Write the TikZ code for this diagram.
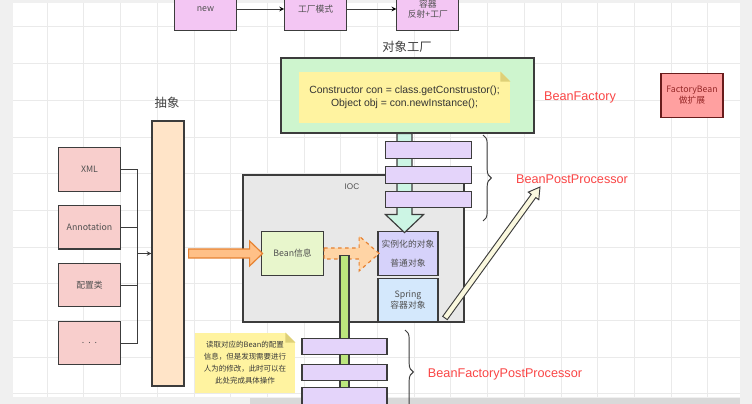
\documentclass[tikz,border=0pt]{standalone}
\usepackage{fontspec}
\setmainfont{Liberation Sans}
\newfontfamily\cjk{Noto Sans CJK SC}
\usetikzlibrary{positioning,calc,decorations.pathreplacing}

\definecolor{topcol}{RGB}{243,198,243}
\definecolor{redbox}{RGB}{248,206,204}
\definecolor{peach}{RGB}{255,228,200}
\definecolor{greenbox}{RGB}{206,245,206}
\definecolor{notecol}{RGB}{255,243,160}
\definecolor{foldcol}{RGB}{222,208,120}
\definecolor{factorycol}{RGB}{255,160,160}
\definecolor{factorytext}{RGB}{150,40,40}
\definecolor{iocfill}{RGB}{232,232,232}
\definecolor{beaninfo}{RGB}{232,246,204}
\definecolor{instcol}{RGB}{214,210,250}
\definecolor{springcol}{RGB}{212,232,252}
\definecolor{barcol}{RGB}{228,212,250}
\definecolor{tealcol}{RGB}{204,245,228}
\definecolor{greenbar}{RGB}{188,230,125}
\definecolor{orangecol}{RGB}{255,192,135}
\definecolor{orangeline}{RGB}{230,130,50}
\definecolor{dashfill}{RGB}{255,212,165}
\definecolor{creamcol}{RGB}{250,248,222}
\definecolor{linecol}{RGB}{60,60,60}
\definecolor{textcol}{RGB}{80,80,80}
\definecolor{redcol}{RGB}{250,70,70}
\definecolor{gridcol}{RGB}{234,234,234}

% [style]{start}{angle}{length}{half shaft}{half head}{head length}
\newcommand{\blockarrow}[7][]{%
  \draw[#1, shift={(#2)}, rotate=#3] (0,-#5) -- (#4-#7,-#5) -- (#4-#7,-#6) -- (#4,0)
    -- (#4-#7,#6) -- (#4-#7,#5) -- (0,#5) -- cycle;}

\begin{document}
\begin{tikzpicture}[x=0.03cm, y=-0.03cm, >=stealth, line width=0.8pt,
    box/.style={draw=linecol, line width=1pt, minimum width=1.86cm, minimum height=1.3cm,
      inner sep=0pt, align=center, text=textcol, font=\cjk\fontsize{7.5}{9.5}\selectfont},
    bar/.style={draw=linecol, line width=1pt, fill=barcol, minimum width=2.58cm,
      minimum height=0.5cm, inner sep=0pt},
    note/.style={fill=notecol, inner sep=0pt, align=center},
    redlabel/.style={text=redcol, font=\fontsize{10.8}{13}\selectfont},
    title/.style={text=textcol!80!black, font=\cjk\fontsize{10.5}{12}\selectfont}]
  \useasboundingbox (0,0) rectangle (752,404);
  \clip (0,0) rectangle (752,404);

  % canvas
  \fill[gray!12] (0,0) rectangle (752,404);
  \fill[white] (13,3) rectangle (740,397);
  \foreach \gx in {47,83.7,...,740} \draw[gridcol, line width=0.5pt] (\gx,3) -- (\gx,397);
  \foreach \gy in {26.7,63.4,...,397} \draw[gridcol, line width=0.5pt] (13,\gy) -- (740,\gy);
  \fill[gray!30] (250,398) rectangle (740,404);

  % top row
  \node [box, fill=topcol](1) at (205.5,9) {new};
  \node [box, fill=topcol](2) [right=1.41cm of 1] {工厂模式};
  \node [box, fill=topcol, font=\cjk\fontsize{7.5}{8.6}\selectfont](3) [right=1.47cm of 2] {容器\\反射+工厂};
  \path[->, draw=linecol]
    (1) edge (2)
    (2) edge (3);

  % object factory
  \node [title](4) at (407,47) {对象工厂};
  \node [draw=linecol, line width=1pt, fill=greenbox, minimum width=7.59cm, minimum height=2.25cm](5) at (407.5,95.5) {};
  \node [note, minimum width=6.33cm, minimum height=1.53cm, text=black!80, font=\fontsize{8.9}{11.5}\selectfont](6) at (404.5,97.5)
    {Constructor con = class.getConstrustor();\\Object obj = con.newInstance();};
  \fill[greenbox] ($(6.north east)+(-10,0)$) -- (6.north east) -- ($(6.north east)+(0,10)$) -- cycle;
  \fill[foldcol] ($(6.north east)+(-10,0)$) -- ($(6.north east)+(-10,10)$) -- ($(6.north east)+(0,10)$) -- cycle;
  \node [redlabel](7) at (580,97) {BeanFactory};
  \node [box, fill=factorycol, draw=factorytext!70!black, text=factorytext](8) at (692,95.5) {FactoryBean\\做扩展};

  % sources
  \node [title](9) at (167,103) {抽象};
  \node [draw=linecol, line width=1pt, fill=peach, minimum width=0.96cm, minimum height=7.95cm](10) at (168,253.5) {};
  \node [box, fill=redbox](11) at (89.5,169.5) {XML};
  \node [box, fill=redbox](12) [below=0.4cm of 11] {Annotation};
  \node [box, fill=redbox](13) [below=0.4cm of 12] {配置类};
  \node [box, fill=redbox](14) [below=0.4cm of 13] {.\ \ .\ \ .};
  \coordinate (bus) at (137,253.5);
  \draw[linecol] (11) -| (bus);
  \draw[linecol] (12) -| (bus);
  \draw[linecol] (13) -| (bus);
  \draw[linecol] (14) -| (bus);
  \draw[->, linecol] (bus) -- (10);

  % IOC
  \node [draw=linecol, line width=1pt, fill=iocfill, minimum width=6.63cm, minimum height=4.41cm](15) at (353.5,248.5) {};
  \node [text=textcol, font=\fontsize{7}{8}\selectfont](30) at (352,187) {IOC};
  \node [box, fill=beaninfo](16) at (292.5,253.5) {Bean信息};
  \node [box, fill=instcol, minimum width=1.8cm](17) at (408,253.5) {实例化的对象\\[7pt]普通对象};
  \node [box, fill=springcol, minimum width=1.8cm](18) at (408,300) {Spring\\容器对象};

  \blockarrow[draw=orangeline, fill=orangecol, line width=1pt]{$(10.east)+(4,0)$}{0}{74}{4.5}{12.5}{13}
  \blockarrow[draw=orangeline, fill=dashfill, dashed, line width=1pt]{16.east}{0}{55}{5.5}{17.5}{20}

  % post processors
  \blockarrow[draw=linecol, fill=tealcol, line width=1pt]{$(5.south)+(-3,0)$}{-90}{99}{7.5}{19}{18}
  \node [bar](19) at (428.5,150) {};
  \node [bar](20) at (428.5,175) {};
  \node [bar](21) at (428.5,199.5) {};
  \draw[linecol, decorate, decoration={brace, amplitude=0.25cm}] (483,135) -- (483,221);
  \node [redlabel](22) at (572,179) {BeanPostProcessor};
  \coordinate (31) at (445,318);
  \blockarrow[draw=linecol, fill=creamcol, line width=0.8pt]{31}{54.05}{161.8}{2.8}{6.5}{11}

  \node [draw=linecol, line width=1pt, fill=greenbar, minimum width=0.27cm, minimum height=4.5cm](29) at (344.5,330.5) {};
  \node [bar, minimum width=2.55cm](23) at (344.5,346.5) {};
  \node [bar, minimum width=2.55cm](24) at (344.5,372.5) {};
  \node [bar, minimum width=2.55cm](25) at (344.5,396) {};
  \node [note, minimum width=3cm, minimum height=1.8cm, text=textcol!70!black, font=\cjk\fontsize{6.4}{10.2}\selectfont](26) at (245,363)
    {读取对应的Bean的配置\\信息，但是发现需要进行\\人为的修改，此时可以在\\此处完成具体操作};
  \fill[white] ($(26.north east)+(-10,0)$) -- (26.north east) -- ($(26.north east)+(0,10)$) -- cycle;
  \fill[foldcol] ($(26.north east)+(-10,0)$) -- ($(26.north east)+(-10,10)$) -- ($(26.north east)+(0,10)$) -- cycle;
  \draw[linecol, decorate, decoration={brace, amplitude=0.25cm}] (405,330) -- (405,414);
  \node [redlabel](27) at (505,374) {BeanFactoryPostProcessor};
\end{tikzpicture}
\end{document}
